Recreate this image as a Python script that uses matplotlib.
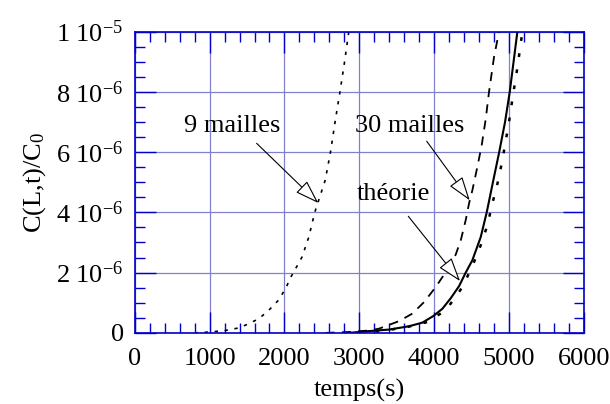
import numpy as np
import matplotlib
matplotlib.use('Agg')
import matplotlib.pyplot as plt
from matplotlib.ticker import MultipleLocator, FixedLocator

plt.rcParams['font.family'] = ['Liberation Serif', 'DejaVu Serif']
plt.rcParams['mathtext.fontset'] = 'custom'
plt.rcParams['mathtext.rm'] = 'Liberation Serif'
plt.rcParams['mathtext.it'] = 'Liberation Serif:italic'
plt.rcParams['mathtext.default'] = 'rm'

# 9 mailles (dotted), values in 1e-6
t9 = [800, 1000, 1210, 1400, 1525, 1659, 1802, 1926, 2024, 2091, 2120, 2235, 2325, 2405, 2545, 2615, 2680, 2742, 2800, 2860]
c9 = [0, 0.03, 0.08, 0.17, 0.31, 0.47, 0.78, 1.1, 1.52, 1.88, 2.0, 2.52, 3.18, 4.0, 5.07, 6.0, 7.06, 8.0, 8.94, 10]

# 30 mailles (dashed)
t30 = [2550, 2860, 3130, 3263, 3531, 3709, 3865, 4021, 4132, 4222, 4289, 4356, 4422, 4467, 4511, 4578, 4636, 4690, 4734, 4801, 4868]
c30 = [0, 0.03, 0.08, 0.14, 0.39, 0.64, 1.02, 1.52, 1.93, 2.3, 2.6, 3.07, 3.74, 4.3, 4.73, 5.51, 6.23, 7.1, 8.0, 9.16, 10]

# theorie (solid)
tth = [2860, 3130, 3397, 3664, 3842, 3990, 4110, 4222, 4333, 4422, 4511, 4623, 4703, 4801, 4870, 4948, 5011, 5059, 5113]
cth = [0, 0.06, 0.11, 0.22, 0.34, 0.56, 0.8, 1.15, 1.55, 2.0, 2.41, 3.18, 4.0, 5.18, 6.0, 7.0, 8.0, 8.94, 10]

# heavy dotted curve
tdt = [3000, 3170, 3400, 3650, 3909, 4155, 4289, 4377, 4511, 4623, 4712, 4778, 4858, 4912, 5001, 5055, 5113, 5180]
cdt = [0, 0.03, 0.1, 0.2, 0.36, 0.75, 1.2, 1.52, 2.21, 2.91, 3.57, 4.29, 5.07, 5.73, 7.0, 7.9, 8.8, 10]

ytick_vals = [0, 2e-6, 4e-6, 6e-6, 8e-6, 1e-5]
ytick_labels = ['0', '2 10$^{-6}$', '4 10$^{-6}$', '6 10$^{-6}$', '8 10$^{-6}$', '1 10$^{-5}$']

fig = plt.figure(figsize=(6.1, 4.04), dpi=100)
ax = fig.add_axes([0.221, 0.176, 0.736, 0.746])

ax.plot(t9, np.array(c9) * 1e-6, color='k', lw=1.2, linestyle=(0, (2, 4)))
ax.plot(t30, np.array(c30) * 1e-6, color='k', lw=1.3, linestyle=(0, (5, 4)))
ax.plot(tth, np.array(cth) * 1e-6, color='k', lw=1.5)
ax.plot(tdt, np.array(cdt) * 1e-6, color='k', lw=1.8, linestyle=(0, (1.5, 5)))

ax.set_xlim(0, 6000)
ax.set_ylim(0, 1e-5)

grid_col = '#8080cc'
spine_col = '#0000cc'
ax.xaxis.set_major_locator(MultipleLocator(1000))
ax.xaxis.set_minor_locator(MultipleLocator(200))
ax.yaxis.set_major_locator(FixedLocator(ytick_vals))
ax.yaxis.set_minor_locator(MultipleLocator(5e-7))
ax.set_yticklabels(ytick_labels)
ax.grid(True, which='major', color=grid_col, lw=0.9)
ax.set_axisbelow(True)
for s in ax.spines.values():
    s.set_color(spine_col)
    s.set_linewidth(1.2)
ax.tick_params(which='both', direction='in', top=True, right=True, color=spine_col, width=1.0, labelsize=19, pad=8)
ax.tick_params(axis='x', which='both', pad=11)
ax.tick_params(which='major', length=15)
ax.tick_params(which='minor', length=7)

ax.set_xlabel('temps(s)', fontsize=19, labelpad=6)
ax.set_ylabel('C(L,t)/C$_0$', fontsize=19, labelpad=6)

arrow = dict(arrowstyle='-|>,head_length=1.5,head_width=0.5', fc='white', ec='k', lw=0.8, shrinkA=0, shrinkB=0, mutation_scale=10)
ax.annotate('', xy=(2452, 4.31e-6), xytext=(1628, 6.29e-6), arrowprops=arrow)
ax.annotate('', xy=(4476, 4.4e-6), xytext=(3901, 6.36e-6), arrowprops=arrow)
ax.annotate('', xy=(4346, 1.72e-6), xytext=(3655, 3.87e-6), arrowprops=arrow)
ax.text(1295, 6.86e-6, '9 mailles', fontsize=19, ha='center', va='center')
ax.text(3676, 6.86e-6, '30 mailles', fontsize=19, ha='center', va='center')
ax.text(3457, 4.6e-6, 'théorie', fontsize=19, ha='center', va='center')

fig.savefig('out.png', dpi=100)
